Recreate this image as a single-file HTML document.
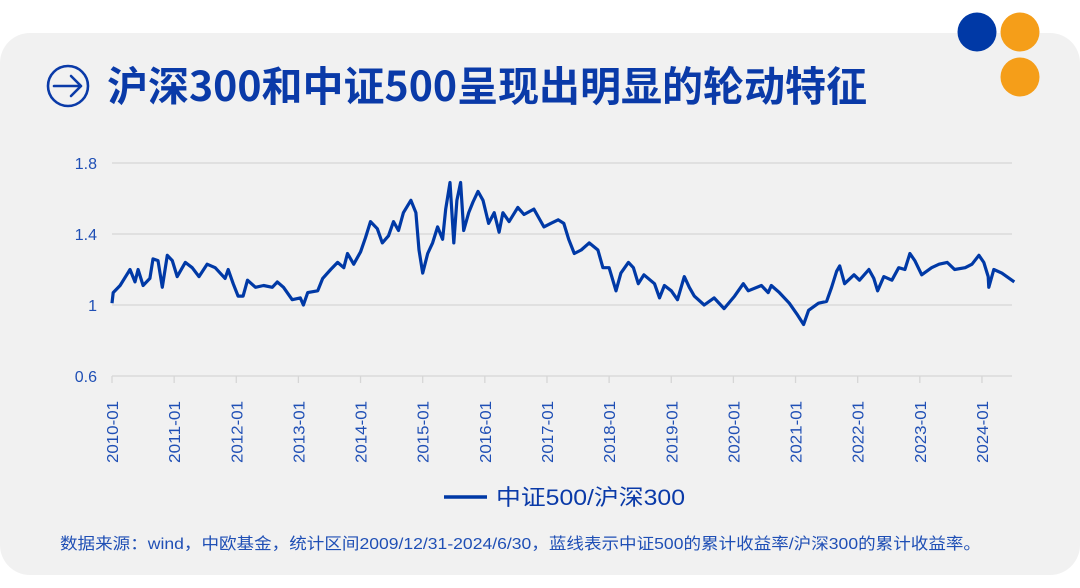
<!DOCTYPE html>
<html><head><meta charset="utf-8">
<style>
html,body{margin:0;padding:0;background:#fff;}
svg{display:block;}
text{font-family:"Liberation Sans","Noto Sans CJK SC",sans-serif;}
</style></head>
<body>
<svg id="chart" width="1080" height="588" viewBox="0 0 1080 588" xmlns="http://www.w3.org/2000/svg">
  <rect x="0" y="33" width="1080" height="542" rx="30" fill="#f1f1f1"/>
  <circle cx="977" cy="32" r="19.5" fill="#0039a6"/>
  <circle cx="1020" cy="32" r="19.5" fill="#f59e19"/>
  <circle cx="1020" cy="77" r="19.5" fill="#f59e19"/>
  <g fill="none" stroke="#0a3aa8" stroke-width="2.6" stroke-linecap="round" stroke-linejoin="round">
    <circle cx="68" cy="86" r="20"/>
    <path d="M54 86 H81 M71 76 L81 86 L71 96"/>
  </g>
  <text x="107" y="101" font-size="41" font-weight="bold" fill="#0a3aa8" textLength="760" lengthAdjust="spacingAndGlyphs" style="font-family:'Noto Sans CJK SC',sans-serif">沪深300和中证500呈现出明显的轮动特征</text>
  <g id="grid"></g>
  <g id="yticks"></g>
  <g id="xticks"></g>
  <path id="series" fill="none" stroke="#0039a6" stroke-width="3.2" stroke-linejoin="round"/>
  <g>
    <line x1="444" y1="497" x2="487" y2="497" stroke="#0039a6" stroke-width="3.5"/>
    <text x="496" y="505" font-size="22" fill="#0a3aa8" textLength="189" lengthAdjust="spacingAndGlyphs">中证500/沪深300</text>
  </g>
  <text x="60" y="549" font-size="16" fill="#1f4fb5" textLength="921" lengthAdjust="spacingAndGlyphs">数据来源：wind，中欧基金，统计区间2009/12/31-2024/6/30，蓝线表示中证500的累计收益率/沪深300的累计收益率。</text>
</svg>
<script>
const yTicks = [0.6, 1, 1.4, 1.8];
const yTickLabels = ["0.6", "1", "1.4", "1.8"];
const xTickLabels = ["2010-01","2011-01","2012-01","2013-01","2014-01","2015-01","2016-01","2017-01","2018-01","2019-01","2020-01","2021-01","2022-01","2023-01","2024-01"];
// time in years since 2010-01
const times = [0.00,0.02,0.13,0.29,0.37,0.42,0.50,0.61,0.66,0.74,0.81,0.89,0.97,1.05,1.18,1.29,1.40,1.53,1.66,1.82,1.87,1.95,2.03,2.11,2.18,2.31,2.44,2.58,2.66,2.76,2.90,3.03,3.08,3.15,3.31,3.39,3.52,3.63,3.73,3.79,3.89,4.00,4.08,4.16,4.27,4.35,4.45,4.53,4.61,4.69,4.81,4.89,4.94,5.00,5.08,5.16,5.24,5.32,5.37,5.44,5.50,5.55,5.61,5.66,5.74,5.81,5.89,5.97,6.06,6.15,6.23,6.29,6.39,6.53,6.63,6.79,6.95,7.06,7.18,7.27,7.35,7.44,7.55,7.68,7.82,7.90,8.00,8.11,8.19,8.31,8.39,8.47,8.56,8.73,8.81,8.89,9.00,9.10,9.21,9.29,9.37,9.53,9.69,9.85,10.02,10.16,10.24,10.45,10.56,10.61,10.74,10.90,11.02,11.13,11.21,11.37,11.50,11.58,11.66,11.71,11.79,11.94,12.03,12.18,12.26,12.32,12.42,12.55,12.66,12.76,12.84,12.92,13.03,13.19,13.31,13.44,13.56,13.73,13.84,13.95,14.03,14.10,14.11,14.19,14.32,14.52];
const ratios = [1.01,1.07,1.11,1.20,1.13,1.20,1.11,1.15,1.26,1.25,1.10,1.28,1.25,1.16,1.24,1.21,1.16,1.23,1.21,1.15,1.20,1.12,1.05,1.05,1.14,1.10,1.11,1.10,1.13,1.10,1.03,1.04,1.00,1.07,1.08,1.15,1.20,1.24,1.21,1.29,1.23,1.30,1.38,1.47,1.43,1.35,1.39,1.47,1.42,1.52,1.59,1.52,1.31,1.18,1.29,1.35,1.44,1.37,1.54,1.69,1.35,1.59,1.69,1.42,1.52,1.58,1.64,1.59,1.46,1.52,1.41,1.52,1.47,1.55,1.51,1.54,1.44,1.46,1.48,1.46,1.37,1.29,1.31,1.35,1.31,1.21,1.21,1.08,1.18,1.24,1.21,1.12,1.17,1.12,1.04,1.11,1.08,1.03,1.16,1.10,1.05,1.00,1.04,0.98,1.05,1.12,1.08,1.11,1.07,1.11,1.07,1.01,0.95,0.89,0.97,1.01,1.02,1.10,1.19,1.22,1.12,1.17,1.14,1.20,1.15,1.08,1.16,1.14,1.21,1.20,1.29,1.25,1.17,1.21,1.23,1.24,1.20,1.21,1.23,1.28,1.24,1.16,1.10,1.20,1.18,1.13];

const NS = "http://www.w3.org/2000/svg";
const X0 = 112, XSTEP = 62.14, XEND = 1012;
const yScale = v => 305 - (v - 1) * 177.5;
const xScale = t => X0 + t * XSTEP;

const grid = document.getElementById('grid');
const yt = document.getElementById('yticks');
yTicks.forEach((v, i) => {
  const y = yScale(v);
  const ln = document.createElementNS(NS, 'line');
  ln.setAttribute('x1', X0); ln.setAttribute('x2', XEND);
  ln.setAttribute('y1', y); ln.setAttribute('y2', y);
  ln.setAttribute('stroke', '#d6d6d6'); ln.setAttribute('stroke-width', '1.3');
  
  
  grid.appendChild(ln);
  const tx = document.createElementNS(NS, 'text');
  tx.setAttribute('x', 97); tx.setAttribute('y', y + 6);
  tx.setAttribute('text-anchor', 'end'); tx.setAttribute('font-size', '16');
  tx.setAttribute('fill', '#1f4fb5');
  tx.textContent = yTickLabels[i];
  
  
  yt.appendChild(tx);
});

const xt = document.getElementById('xticks');
const base = yScale(0.6);
xTickLabels.forEach((lab, i) => {
  const x = xScale(i);
  const tk = document.createElementNS(NS, 'line');
  tk.setAttribute('x1', x); tk.setAttribute('x2', x);
  tk.setAttribute('y1', base); tk.setAttribute('y2', base + 7);
  tk.setAttribute('stroke', '#d6d6d6'); tk.setAttribute('stroke-width', '1.3');
  
  
  xt.appendChild(tk);
  const tx = document.createElementNS(NS, 'text');
  tx.setAttribute('transform', 'translate(' + (x + 6) + ',' + 463 + ') rotate(-90)');
  tx.setAttribute('font-size', '16'); tx.setAttribute('fill', '#1f4fb5');
  tx.setAttribute('textLength', '62'); tx.setAttribute('lengthAdjust', 'spacingAndGlyphs');
  tx.textContent = lab;
  
  
  xt.appendChild(tx);
});

let d = '';
times.forEach((t, i) => {
  d += (i ? 'L' : 'M') + xScale(t).toFixed(1) + ' ' + yScale(ratios[i]).toFixed(1);
});
document.getElementById('series').setAttribute('d', d);
</script>
</body></html>
